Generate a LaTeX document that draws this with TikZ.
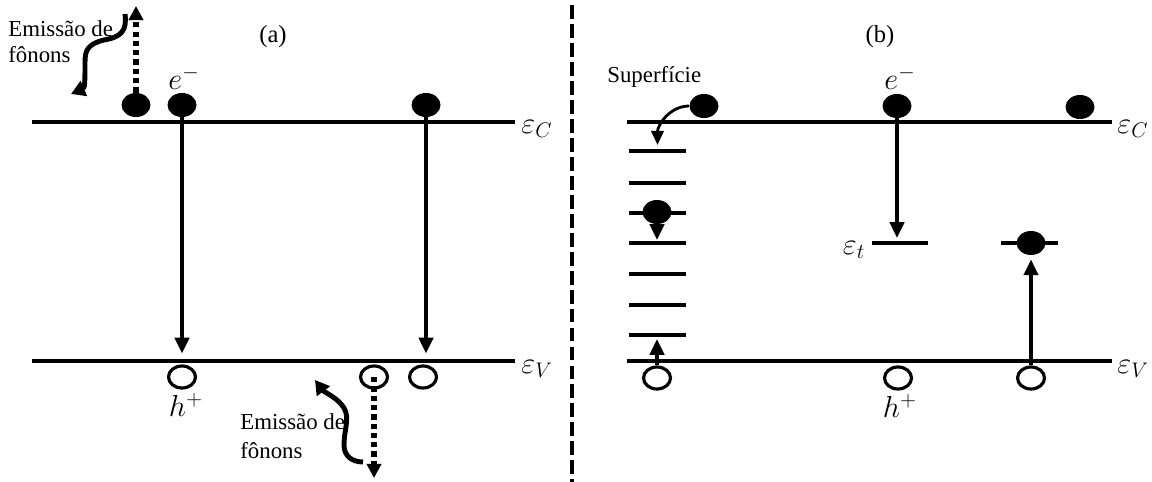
\documentclass[tikz,border=0pt]{standalone}
\usepackage{fontspec}
\setmainfont{Liberation Serif}
\usetikzlibrary{shapes.geometric,arrows.meta,calc}
\begin{document}
\begin{tikzpicture}[x=0.02cm,y=-0.02cm,
  band/.style={line width=2.3pt},
  elec/.style={ellipse,fill=black,minimum width=0.58cm,minimum height=0.48cm,inner sep=0pt},
  hole/.style={ellipse,draw,line width=1.8pt,minimum width=0.54cm,minimum height=0.44cm,inner sep=0pt},
  arr/.style={line width=2.2pt,-{Triangle[width=8pt,length=9pt]}},
  thinarr/.style={line width=1.6pt,-{Triangle[width=7pt,length=8pt]}},
  dotarr/.style={line width=3pt,dash pattern=on 3pt off 2.3pt,-{Triangle[width=8pt,length=8pt]}},
  wave/.style={line width=2.8pt,-{Triangle[width=9pt,length=8pt]}},
  lbl/.style={font=\fontsize{13}{15}\selectfont,inner sep=0pt},
  ttl/.style={font=\fontsize{14}{16}\selectfont,inner sep=0pt},
  sym/.style={font=\fontsize{18}{20}\selectfont,inner sep=0pt}]
\useasboundingbox (0,0) rectangle (1152,482);

% ---------------- panel (a) ----------------
\node[ttl] (ta) at (273,37) {(a)};
\coordinate (cA1) at (32,122);  \coordinate (cA2) at (515,122);
\coordinate (vA1) at (32,361);  \coordinate (vA2) at (515,361);
\draw[band] (cA1) -- (cA2);
\draw[band] (vA1) -- (vA2);
\node[sym,anchor=west] (ecA) at (521,129) {$\varepsilon_C$};
\node[sym,anchor=west] (evA) at (521,369) {$\varepsilon_V$};

\node[elec] (ea1) at (136,105) {};
\node[elec] (ea2) at (182,105) {};
\node[elec] (ea3) at (426,105) {};
\node[sym] (lea) at (184,78) {$e^-$};

\node[hole] (ha1) at (182,377) {};
\node[hole] (ha2) at (374,377) {};
\node[hole] (ha3) at (423,377) {};
\node[sym] (lha) at (186,405) {$h^+$};

% band-to-band recombination
\draw[arr,shorten >=0.15cm] (ea2.south) -- (ea2.south |- vA1);
\draw[arr,shorten >=0.15cm] (ea3.south) -- (ea3.south |- vA1);

% phonon emission (electron)
\coordinate (pA) at (136,6);
\draw[dotarr] (ea1.north) -- (pA);
\coordinate (wA0) at (125,14);
\coordinate (wA1) at (71,94);
\draw[wave] (wA0) .. controls (127,30) and (122,37) .. (104,40)
  .. controls (88,44) and (85,50) .. (85,62)
  .. controls (85,78) and (85,88) .. (wA1);
\node[lbl,anchor=base west] (tA1) at (8,37) {Emissão de};
\node[lbl,anchor=base west] (tA2) at (8,63) {fônons};

% phonon emission (hole)
\coordinate (pB) at (374,478);
\draw[dotarr] (ha2.center) -- (pB);
\coordinate (wB0) at (363,462);
\coordinate (wB1) at (315,380);
\draw[wave] (wB0) .. controls (352,462) and (344,456) .. (344,445)
  .. controls (344,430) and (350,418) .. (344,408)
  .. controls (338,398) and (324,392) .. (wB1);
\node[lbl,anchor=base west] (tB1) at (240,430) {Emissão de};
\node[lbl,anchor=base west] (tB2) at (240,459) {fônons};

% ---------------- divider ----------------
\coordinate (d1) at (572,5);
\coordinate (d2) at (572,482);
\draw[line width=2.3pt,dash pattern=on 7.9pt off 2.9pt] (d1) -- (d2);

% ---------------- panel (b) ----------------
\node[ttl] (tb) at (880,37) {(b)};
\coordinate (cB1) at (627,122);  \coordinate (cB2) at (1112,122);
\coordinate (vB1) at (627,361);  \coordinate (vB2) at (1112,361);
\draw[band] (cB1) -- (cB2);
\draw[band] (vB1) -- (vB2);
\node[sym,anchor=west] (ecB) at (1117,129) {$\varepsilon_C$};
\node[sym,anchor=west] (evB) at (1117,369) {$\varepsilon_V$};

% surface states
\foreach \y [count=\i] in {151,183,213,243,274,305,335}{
  \coordinate (s\i-a) at (629,\y);
  \coordinate (s\i-b) at (686,\y);
  \draw[band] (s\i-a) -- (s\i-b);
}
\node[lbl,anchor=base west] (tsup) at (607,83) {Superfície};
\node[elec] (eb1) at (704,106) {};
\node[elec] (eb2) at (657,212) {};
\node[hole] (hb1) at (657,378) {};
\draw[thinarr] (eb1.west) to[out=180,in=90] ($(s1-a)!0.5!(s1-b)+(0,-6)$);
\draw[arr,shorten >=0.06cm] (eb2.south) -- (eb2.south |- s4-a);
\draw[arr,shorten >=0.08cm] (hb1.north) -- (hb1.north |- s7-a);

% trap level
\coordinate (t1a) at (872,243); \coordinate (t1b) at (928,243);
\draw[band] (t1a) -- (t1b);
\node[sym] (let) at (854,250) {$\varepsilon_t$};
\node[elec] (eb3) at (897,106) {};
\node[sym] (leb) at (900,78) {$e^-$};
\draw[arr,shorten >=0.1cm] (eb3.south) -- (eb3.south |- t1a);

\coordinate (t2a) at (1001,243); \coordinate (t2b) at (1058,243);
\draw[band] (t2a) -- (t2b);
\node[elec] (eb4) at (1031,243) {};
\node[hole] (hb3) at (1031,378) {};
\draw[arr,shorten >=0.08cm] (hb3.north) -- (eb4.south);

\node[hole] (hb2) at (898,378) {};
\node[sym] (lhb) at (900,406) {$h^+$};
\node[elec] (eb5) at (1080,107) {};
\end{tikzpicture}
\end{document}
